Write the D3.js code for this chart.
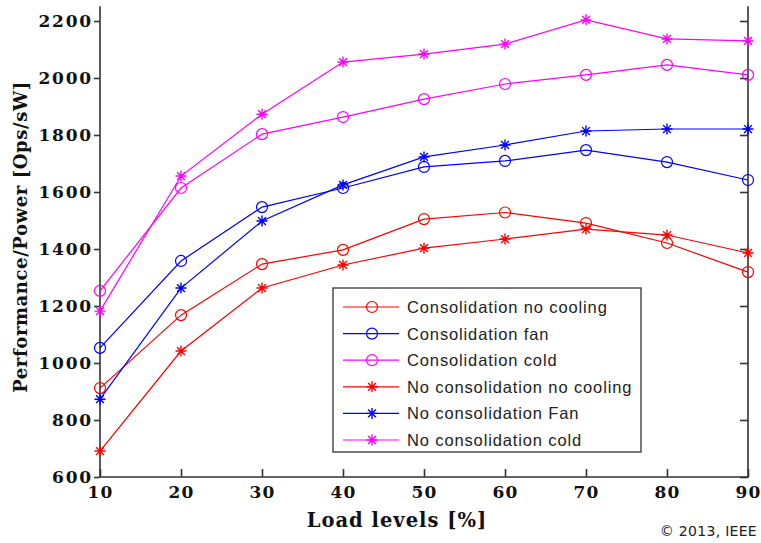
<!DOCTYPE html>
<html>
<head>
<meta charset="utf-8">
<script src="https://cdn.jsdelivr.net/npm/d3@7"></script>
<style>
  body { margin: 0; background: #fff; }
  svg { display: block; }
</style>
</head>
<body>
<svg id="chart" width="761" height="543"></svg>
<script>
const width = 761;
const height = 543;

// load levels [%]
var loads = [10, 20, 30, 40, 50, 60, 70, 80, 90];

var consNoCooling   = [912, 1168, 1347, 1397, 1505, 1528, 1491, 1421, 1319];
var consFan         = [1053, 1358, 1547, 1614, 1688, 1709, 1747, 1705, 1642];
var consCold        = [1253, 1614, 1803, 1863, 1926, 1979, 2011, 2046, 2011];
var noConsNoCooling = [691, 1042, 1263, 1344, 1403, 1435, 1470, 1449, 1386];
var noConsFan       = [873, 1263, 1498, 1625, 1723, 1765, 1814, 1821, 1821];
var noConsCold      = [1182, 1656, 1873, 2056, 2084, 2119, 2204, 2137, 2130];

var seriesNames = ["Consolidation no cooling", "Consolidation fan", "Consolidation cold",
                   "No consolidation no cooling", "No consolidation Fan", "No consolidation cold"];

var xTicks = [10, 20, 30, 40, 50, 60, 70, 80, 90];
var yTicks = [600, 800, 1000, 1200, 1400, 1600, 1800, 2000, 2200];

var series = [
    {name: seriesNames[0], values: consNoCooling,   color: "#ff0000", marker: "circle"},
    {name: seriesNames[1], values: consFan,         color: "#0000ff", marker: "circle"},
    {name: seriesNames[2], values: consCold,        color: "#ff00ff", marker: "circle"},
    {name: seriesNames[3], values: noConsNoCooling, color: "#ff0000", marker: "star"},
    {name: seriesNames[4], values: noConsFan,       color: "#0000ff", marker: "star"},
    {name: seriesNames[5], values: noConsCold,      color: "#ff00ff", marker: "star"}
];

var x = d3.scaleLinear().domain([10, 90]).range([100, 748]);
var y = d3.scaleLinear().domain([600, 2200]).range([477, 21]);

var svg = d3.select("#chart");
var axisColor = "#333";
var tickFont = "'DejaVu Serif', serif";

// frame: left, right, bottom spines (top cut off)
var yTop = y(2252);
svg.append("path")
    .attr("d", "M" + x(10) + "," + yTop + "V" + y(600) + "H" + x(90) + "V" + yTop)
    .attr("fill", "none")
    .attr("stroke", axisColor)
    .attr("stroke-width", 1.6);

// left axis (ticks outward)
var yAxisL = svg.append("g")
    .attr("transform", "translate(" + x(10) + ",0)")
    .call(d3.axisLeft(y).tickValues(yTicks).tickSize(6).tickPadding(1).tickFormat(d3.format("d")));
yAxisL.select(".domain").remove();
yAxisL.selectAll(".tick line").attr("stroke", axisColor).attr("stroke-width", 1.6);
yAxisL.selectAll(".tick text")
    .attr("fill", "#111")
    .style("font-family", tickFont)
    .style("font-weight", "bold")
    .style("font-size", "17px")
    .style("letter-spacing", "1.8px");

// right axis (ticks inward)
var yAxisR = svg.append("g")
    .attr("transform", "translate(" + x(90) + ",0)")
    .call(d3.axisLeft(y).tickValues(yTicks).tickSize(8).tickFormat(""));
yAxisR.select(".domain").remove();
yAxisR.selectAll(".tick line").attr("x2", -8).attr("stroke", axisColor).attr("stroke-width", 1.6);

// bottom axis (ticks inward)
var xAxis = svg.append("g")
    .attr("transform", "translate(0," + y(600) + ")")
    .call(d3.axisBottom(x).tickValues(xTicks).tickSize(8).tickPadding(0).tickFormat(d3.format("d")));
xAxis.select(".domain").remove();
xAxis.selectAll(".tick line").attr("y2", -8).attr("stroke", axisColor).attr("stroke-width", 1.6);
xAxis.selectAll(".tick text")
    .attr("y", 9)
    .attr("fill", "#111")
    .style("font-family", tickFont)
    .style("font-weight", "bold")
    .style("font-size", "17px")
    .style("letter-spacing", "1.2px");

// axis titles
svg.append("text")
    .attr("x", 397)
    .attr("y", 527)
    .attr("text-anchor", "middle")
    .attr("fill", "#111")
    .style("font-family", tickFont)
    .style("font-weight", "bold")
    .style("font-size", "19.5px")
    .style("letter-spacing", "1px")
    .text("Load levels [%]");

svg.append("text")
    .attr("transform", "translate(27,237) rotate(-90)")
    .attr("text-anchor", "middle")
    .attr("fill", "#111")
    .style("font-family", tickFont)
    .style("font-weight", "bold")
    .style("font-size", "18px")
    .style("letter-spacing", "0.6px")
    .text("Performance/Power [Ops/sW]");

svg.append("text")
    .attr("x", 757)
    .attr("y", 536)
    .attr("text-anchor", "end")
    .attr("fill", "#222")
    .style("font-family", "'DejaVu Sans', sans-serif")
    .style("font-size", "14px")
    .style("letter-spacing", "0.3px")
    .text("\u00a9 2013, IEEE");

function starPath(r) {
    var d = r * Math.SQRT1_2;
    return "M" + (-r) + ",0H" + r + "M0," + (-r) + "V" + r +
           "M" + (-d) + "," + (-d) + "L" + d + "," + d +
           "M" + (-d) + "," + d + "L" + d + "," + (-d);
}

function drawMarker(g, s) {
    if (s.marker === "circle") {
        g.append("circle").attr("r", 5.5)
            .attr("fill", "none").attr("stroke", s.color).attr("stroke-width", 1.2);
    } else {
        g.append("path").attr("d", starPath(5.5))
            .attr("fill", "none").attr("stroke", s.color).attr("stroke-width", 1.4);
    }
}

var line = d3.line()
    .x(function (d, i) { return x(loads[i]); })
    .y(function (d) { return y(d); });

series.forEach(function (s) {
    svg.append("path")
        .datum(s.values)
        .attr("d", line)
        .attr("fill", "none")
        .attr("stroke", s.color)
        .attr("stroke-width", 1.2);
    s.values.forEach(function (v, i) {
        var g = svg.append("g").attr("transform", "translate(" + x(loads[i]) + "," + y(v) + ")");
        drawMarker(g, s);
    });
});

// legend
var legend = svg.append("g").attr("transform", "translate(333,288)");
legend.append("rect")
    .attr("width", 308)
    .attr("height", 164)
    .attr("fill", "#fff")
    .attr("stroke", axisColor)
    .attr("stroke-width", 1.3);

series.forEach(function (s, i) {
    var row = legend.append("g").attr("transform", "translate(0," + (19 + i * 26.6) + ")");
    row.append("line")
        .attr("x1", 10).attr("x2", 66)
        .attr("stroke", s.color).attr("stroke-width", 1.2);
    var m = row.append("g").attr("transform", "translate(39,0)");
    drawMarker(m, s);
    row.append("text")
        .attr("x", 74)
        .attr("dy", "0.36em")
        .attr("fill", "#222")
        .style("font-family", "'Liberation Sans', Arial, sans-serif")
        .style("font-size", "16.5px")
        .style("letter-spacing", "0.87px")
        .text(s.name);
});
</script>
</body>
</html>
